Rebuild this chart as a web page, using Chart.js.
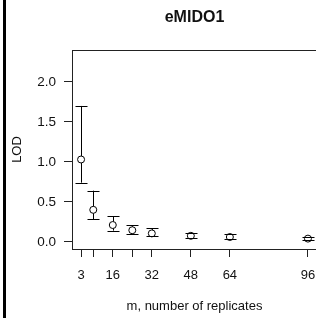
<!DOCTYPE html>
<html>
<head>
<meta charset="utf-8">
<script src="https://cdn.jsdelivr.net/npm/chart.js@4/dist/chart.umd.min.js"></script>
<style>
  html, body { margin: 0; padding: 0; background: #fff; overflow: hidden; }
  #wrap { position: relative; width: 316px; height: 318px; overflow: hidden; }
  #edge { position: absolute; left: 3px; top: 0; width: 3px; height: 318px; background: #000; }
  canvas { position: absolute; left: 0; top: 0; }
</style>
</head>
<body>
<div id="wrap">
  <canvas id="lodChart" width="330" height="318"></canvas>
  <div id="edge"></div>
</div>
<script>
// data
const reps = [3, 8, 16, 24, 32, 48, 64, 96];
const lod = [1.03, 0.40, 0.21, 0.145, 0.105, 0.075, 0.06, 0.04];
const lodLow = [0.74, 0.28, 0.14, 0.095, 0.07, 0.05, 0.035, 0.02];
const lodHigh = [1.70, 0.64, 0.32, 0.21, 0.17, 0.11, 0.095, 0.06];
const xTicks = [3, 8, 16, 24, 32, 48, 64, 96];
const xTickLabels = ["3", "", "16", "", "32", "48", "64", "96"];
const yTicks = [0, 0.5, 1, 1.5, 2];
const yTickLabels = ["0.0", "0.5", "1.0", "1.5", "2.0"];

const FONT = "'Liberation Sans', Arial, Helvetica, sans-serif";

// garis error bar + kotak plot ala R
const errorBars = {
  id: "errorBars",
  afterDatasetsDraw(chart) {
    const { ctx, chartArea, scales } = chart;
    const x = scales.x, y = scales.y;
    const r = 3.5, cap = 6;
    ctx.save();
    ctx.strokeStyle = "#000";
    ctx.lineWidth = 1;
    reps.forEach((m, i) => {
      const px = Math.round(x.getPixelForValue(m)) + 0.5;
      const py = y.getPixelForValue(lod[i]);
      const top = y.getPixelForValue(lodHigh[i]);
      const bot = y.getPixelForValue(lodLow[i]);
      ctx.beginPath();
      if (top < py - r) { ctx.moveTo(px, top); ctx.lineTo(px, py - r); }
      if (bot > py + r) { ctx.moveTo(px, py + r); ctx.lineTo(px, bot); }
      ctx.moveTo(px - cap, Math.round(top) + 0.5); ctx.lineTo(px + cap, Math.round(top) + 0.5);
      ctx.moveTo(px - cap, Math.round(bot) + 0.5); ctx.lineTo(px + cap, Math.round(bot) + 0.5);
      ctx.stroke();
    });
    ctx.strokeStyle = "#222";
    ctx.strokeRect(Math.round(chartArea.left) + 0.5, Math.round(chartArea.top) + 0.5,
      chartArea.right - chartArea.left, chartArea.bottom - chartArea.top);
    ctx.restore();
  }
};

new Chart(document.getElementById("lodChart"), {
  type: "scatter",
  data: {
    datasets: [{
      data: reps.map((m, i) => ({ x: m, y: lod[i] })),
      pointStyle: "circle",
      pointRadius: 3.5,
      pointHoverRadius: 3.5,
      pointBorderColor: "#000",
      pointBackgroundColor: "rgba(0,0,0,0)",
      pointBorderWidth: 1
    }]
  },
  options: {
    responsive: false,
    animation: false,
    devicePixelRatio: 1,
    layout: { padding: { left: 0, right: 13, top: 0, bottom: 0 } },
    plugins: {
      legend: { display: false },
      tooltip: { enabled: false },
      title: { display: false }
    },
    scales: {
      x: {
        type: "linear",
        position: "bottom",
        min: -0.72,
        max: 99.72,
        afterBuildTicks: (s) => { s.ticks = xTicks.map(v => ({ value: v })); },
        afterFit: (s) => { s.height = 69; },
        grid: { drawOnChartArea: false, drawTicks: true, tickLength: 8, color: "#222" },
        border: { display: true, color: "#222" },
        ticks: {
          padding: 11,
          color: "#111",
          maxRotation: 0,
          autoSkip: false,
          font: { family: FONT, size: 13 },
          callback: (v) => { const i = xTicks.indexOf(v); return i >= 0 ? xTickLabels[i] : ""; }
        },
        title: {
          display: true,
          text: "m, number of replicates",
          color: "#111",
          font: { family: FONT, size: 13 },
          padding: { top: 0, bottom: 4 }
        }
      },
      top: {
        type: "linear",
        position: "top",
        min: 0,
        max: 1,
        afterFit: (s) => { s.height = 50; },
        grid: { display: false },
        border: { display: false },
        ticks: { display: false },
        title: {
          display: true,
          text: "eMIDO1",
          color: "#111",
          font: { family: FONT, size: 16, weight: "bold" },
          padding: { top: 8, bottom: 0 }
        }
      },
      y: {
        type: "linear",
        position: "left",
        min: -0.09,
        max: 2.40,
        afterBuildTicks: (s) => { s.ticks = yTicks.map(v => ({ value: v })); },
        afterFit: (s) => { s.width = 72; },
        grid: { drawOnChartArea: false, drawTicks: true, tickLength: 8, color: "#222" },
        border: { display: true, color: "#222" },
        ticks: {
          padding: 8,
          color: "#111",
          font: { family: FONT, size: 13.5 },
          callback: (v) => { const i = yTicks.indexOf(v); return i >= 0 ? yTickLabels[i] : ""; }
        },
        title: {
          display: true,
          text: "LOD",
          color: "#111",
          font: { family: FONT, size: 13 },
          padding: { top: 10, bottom: 0 }
        }
      }
    }
  },
  plugins: [errorBars]
});
</script>
</body>
</html>
